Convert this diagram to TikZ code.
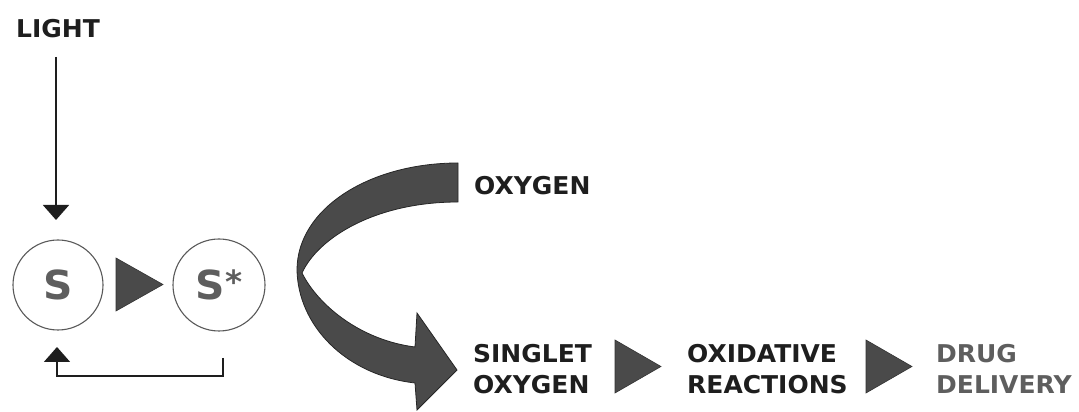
\documentclass[tikz,border=0pt]{standalone}
\usepackage{fontspec}
\setmainfont{DejaVu Sans}[FakeStretch=1.02]
\usetikzlibrary{arrows.meta}
\definecolor{ink}{HTML}{1E1E1E}
\definecolor{shade}{HTML}{4A4A4A}
\definecolor{greytext}{HTML}{5E5E5E}
\tikzset{
  lbl/.style={anchor=west, inner sep=0pt, text=ink, font=\fontsize{24.5}{31}\selectfont\bfseries, align=left},
  greylbl/.style={lbl, text=greytext},
  state/.style={circle, draw=black!65, line width=1.1pt, minimum size=#1, inner sep=0pt, text=greytext, font=\fontsize{40}{40}\selectfont\bfseries},
  stepmark/.style={fill=shade, draw=black!80, line width=0.6pt},
  linkline/.style={draw=ink, line width=1.7pt, -{Triangle[width=26pt,length=15pt]}},
  ribbon/.style={fill=shade, draw=black!85, line width=0.8pt},
}
\begin{document}
\begin{tikzpicture}[x=1pt,y=1pt]
\useasboundingbox (0,0) rectangle (1079,412);
% labels
\node[lbl] (light) at (16,383.5) {LIGHT};
\node[lbl] (oxygen) at (474,226) {OXYGEN};
\node[lbl] (singlet) at (473,43) {SINGLET\\OXYGEN};
\node[lbl] (oxid) at (687,43) {OXIDATIVE\\REACTIONS};
\node[greylbl] (drug) at (936,43) {DRUG\\DELIVERY};
% states
\node[state=90pt] (s) at (58,127) {S};
\node[state=92pt] (sstar) at (219,127) {S\kern0.5pt\raisebox{6pt}{\fontsize{32}{32}\selectfont\bfseries *}};
% step triangles
\fill[stepmark] (116,154) -- (116,101) -- (163,127.5) -- cycle;
\fill[stepmark] (615,72) -- (615,19) -- (661,45.5) -- cycle;
\fill[stepmark] (866,72) -- (866,19) -- (912,45.5) -- cycle;
% light arrow
\coordinate (lighttop) at (56,355);
\draw[linkline] (lighttop) -- (lighttop |- 0,192);
% feedback arrow
\coordinate (fbstart) at (223,54);
\coordinate (fbend) at (57,65);
\draw[linkline, line cap=butt] (fbstart) -- (223,36) -| (fbend);
% curved ribbon arrow from oxygen to singlet oxygen
\filldraw[ribbon] (458,249) .. controls (369,249) and (297,203) .. (297,142)
  .. controls (298,87) and (345,37) .. (415,29) -- (417,2) -- (457,42) -- (417,99) -- (415,65)
  .. controls (360,72) and (318,107) .. (302,139)
  .. controls (318,174) and (375,210) .. (458,210) -- cycle;
\end{tikzpicture}
\end{document}
